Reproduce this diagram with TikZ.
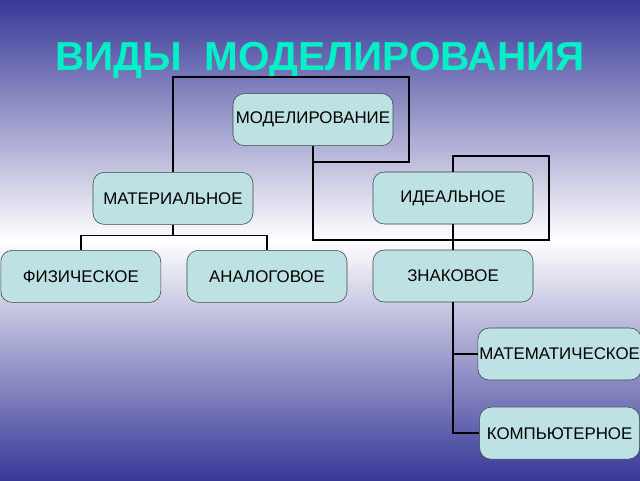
\documentclass[tikz,border=0pt]{standalone}
\usepackage{fontspec}
\setmainfont{Liberation Sans}
\definecolor{bgblue}{RGB}{56,56,152}
\definecolor{boxfill}{RGB}{190,226,228}
\definecolor{boxline}{RGB}{60,70,70}
\definecolor{titlecyan}{RGB}{0,240,200}
\begin{document}
\begin{tikzpicture}[every node/.style={draw=boxline, fill=boxfill, rounded corners=8pt, minimum width=4cm, minimum height=1.3cm, inner xsep=1pt, font=\fontsize{12}{14}\selectfont, align=center}, link/.style={draw, line width=1.8pt}, thinlink/.style={draw, line width=1.1pt}, leaflink/.style={draw, line width=1.4pt}]

% Background
\shade[top color=bgblue, bottom color=bgblue, middle color=white] (0,0) rectangle (16,-12);
\useasboundingbox (0,0) rectangle (16,-12);

% Title
\node[draw=none, fill=none, text=titlecyan, font=\fontsize{28.8}{34}\selectfont\bfseries] (title) at (8,-1.52) {ВИДЫ\ \ МОДЕЛИРОВАНИЯ};

% Nodes
\node (model) at (7.825,-2.99) {МОДЕЛИРОВАНИЕ};
\node (mater) at (4.325,-4.96) {МАТЕРИАЛЬНОЕ};
\node (ideal) at (11.325,-4.95) {ИДЕАЛЬНОЕ};
\node (phys) at (2.02,-6.91) {ФИЗИЧЕСКОЕ};
\node (analog) at (6.675,-6.91) {АНАЛОГОВОЕ};
\node (sign) at (11.325,-6.9) {ЗНАКОВОЕ};
\node (math) at (13.99,-8.85) {МАТЕМАТИЧЕСКОЕ};
\node (comp) at (13.99,-10.83) {КОМПЬЮТЕРНОЕ};

% Links
\draw[link] (model.south) -- ++(0,-0.4) -- ++(2.4,0) -- ++(0,2.125) -| (mater.north);
\draw[link] (model.south) -- ++(0,-2.35) -- ++(5.9,0) -- ++(0,2.1) -| (ideal.north);
\draw[thinlink] (ideal.south) -- (sign.north);
\draw[thinlink] (mater.south) -- ++(0,-0.275) -| (phys.north);
\draw[thinlink] (mater.south) -- ++(0,-0.275) -| (analog.north);
\draw[leaflink] (sign.south) |- (math.west);
\draw[leaflink] (sign.south) |- (comp.west);

\end{tikzpicture}
\end{document}
